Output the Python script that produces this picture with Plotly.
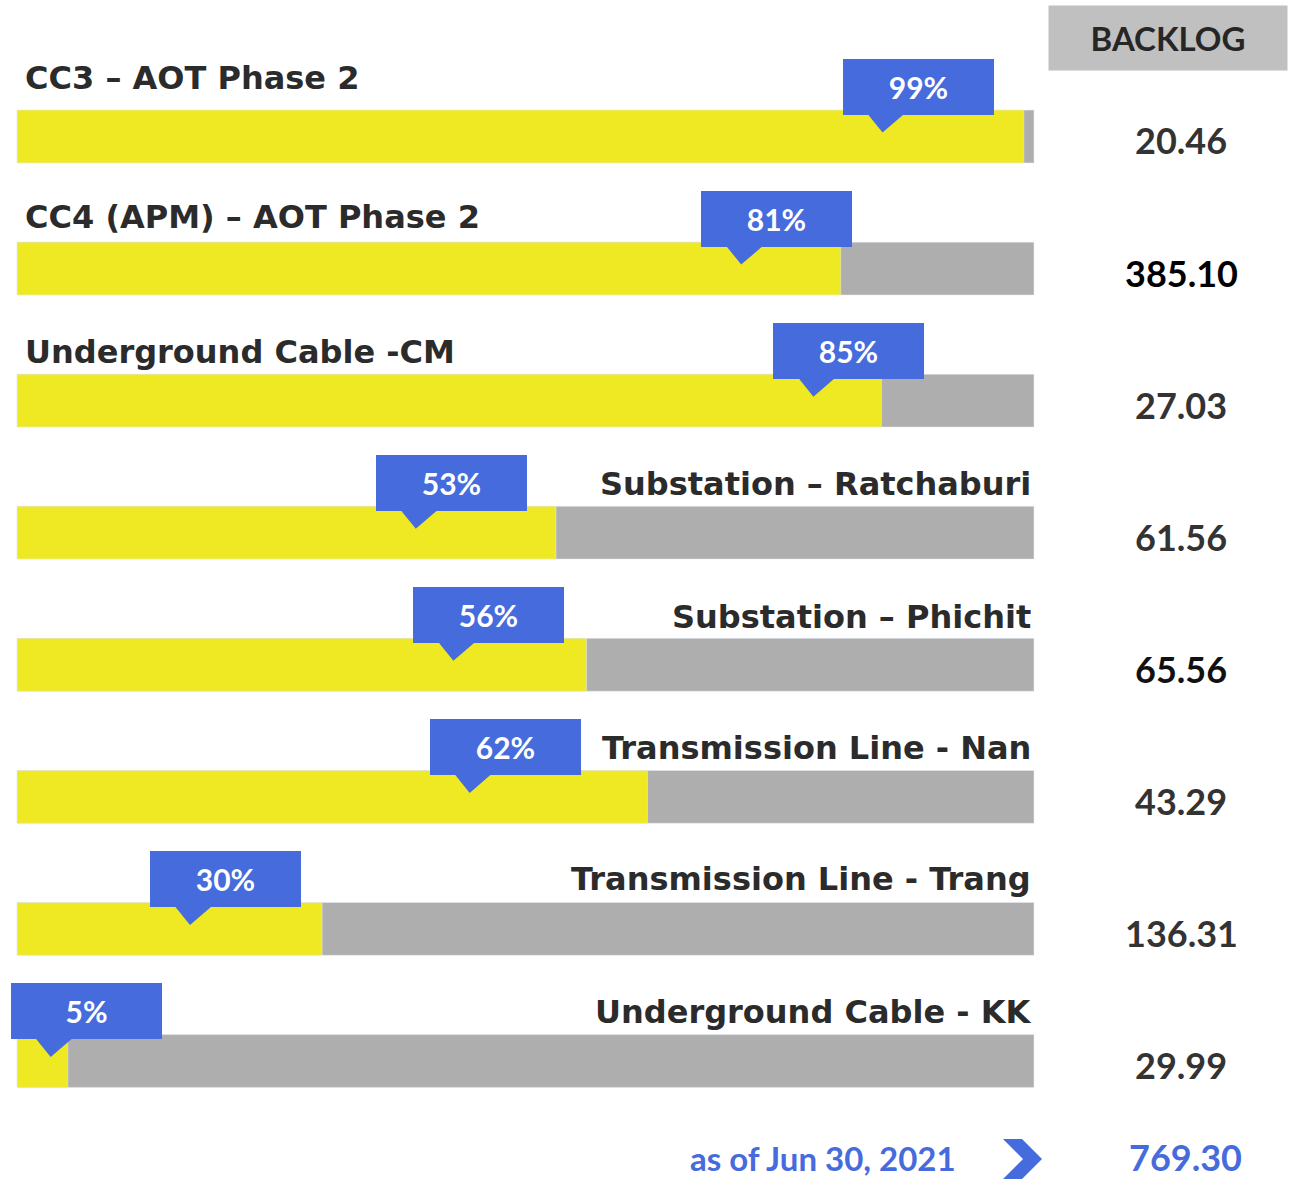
import plotly.graph_objects as go

# ---- data ----
projects = ["CC3 – AOT Phase 2", "CC4 (APM) – AOT Phase 2", "Underground Cable -CM",
            "Substation – Ratchaburi", "Substation – Phichit", "Transmission Line - Nan",
            "Transmission Line - Trang", "Underground Cable - KK"]
progress = [99, 81, 85, 53, 56, 62, 30, 5]
backlog = [20.46, 385.10, 27.03, 61.56, 65.56, 43.29, 136.31, 29.99]
total_backlog = 769.30
as_of = "as of Jun 30, 2021"

# ---- styles / layout helpers ----
label_side = ["left", "left", "left", "right", "right", "right", "right", "right"]
label_dy = [-0.44, -0.39, -0.37, -0.37, -0.36, -0.37, -0.38, -0.37]
callout_center = [88.6, 74.7, 81.8, 42.7, 46.4, 48.0, 20.5, 6.8]   # axis units
backlog_color = ["#333333", "#000000", "#333333", "#333333", "#111111", "#333333", "#333333", "#333333"]

W, H = 1289, 1179
PX = 10.17          # px per x unit
X0 = 17             # px of x=0
ROWPX = 132.07      # px per row
Y0 = 136.5          # px of row 0 center

YELLOW = "#EEE923"
GREY = "#AEAEAE"
BLUE = "#466BDC"
FONT = "Lato"
LABEL_FONT = "DejaVu Sans"

rows = list(range(len(projects)))

fig = go.Figure()
fig.add_trace(go.Bar(y=rows, x=[100] * len(rows), orientation="h", marker_color=GREY,
                     width=0.4, hoverinfo="skip", showlegend=False))
fig.add_trace(go.Bar(y=rows, x=progress, orientation="h", marker_color=YELLOW,
                     width=0.4, showlegend=False, name="Progress"))

ann = []
shapes = []
for i, r in enumerate(rows):
    # project label
    if label_side[i] == "left":
        ann.append(dict(x=0.6, y=r + label_dy[i], text=projects[i], xanchor="left", yanchor="middle",
                        showarrow=False, font=dict(family=LABEL_FONT, size=32, color="#2B2B2B", weight="bold")))
    else:
        ann.append(dict(x=99.9, y=r + label_dy[i], text=projects[i], xanchor="right", yanchor="middle",
                        showarrow=False, font=dict(family=LABEL_FONT, size=32, color="#2B2B2B", weight="bold")))
    # callout pointer
    c = callout_center[i]
    shapes.append(dict(type="path", xref="x", yref="y",
                       path=f"M {c-5.06},{r-0.18} L {c-1.23},{r-0.18} L {c-3.49},{r-0.03} Z",
                       fillcolor=BLUE, line=dict(width=0), layer="above"))
    # callout box
    ann.append(dict(x=c, y=r - 0.375, text=f"{progress[i]}%", xanchor="center", yanchor="middle",
                    showarrow=False, bgcolor=BLUE, width=151, height=56, borderpad=0, borderwidth=0,
                    font=dict(family=FONT, size=30, color="white", weight="bold")))
    # backlog value
    ann.append(dict(x=114.5, y=r + 0.03, text=f"{backlog[i]:.2f}", xanchor="center", yanchor="middle",
                    showarrow=False, font=dict(family=FONT, size=36, color=backlog_color[i], weight="bold")))

# header
ann.append(dict(xref="paper", yref="paper", x=1168 / W, y=1 - 38 / H, text="BACKLOG",
                xanchor="center", yanchor="middle",
                showarrow=False, bgcolor="#C0C0C0", width=238, height=64, borderpad=0,
                font=dict(family=FONT, size=33, color="#262626", weight="bold")))
# footer
ann.append(dict(xref="paper", yref="paper", x=958 / W, y=1 - 1158 / H, text=as_of,
                xanchor="right", yanchor="middle", showarrow=False,
                font=dict(family=FONT, size=33, color=BLUE, weight="bold")))
ann.append(dict(xref="paper", yref="paper", x=1185 / W, y=1 - 1157 / H, text=f"{total_backlog:.2f}",
                xanchor="center", yanchor="middle", showarrow=False,
                font=dict(family=FONT, size=36, color=BLUE, weight="bold")))

# chevron decoration (pixel coordinates -> paper)
chev = [(1003, 1139), (1022, 1139), (1042, 1159), (1022, 1179), (1003, 1179), (1023, 1159)]
chev_path = "M " + " L ".join(f"{x / W},{1 - y / H}" for x, y in chev) + " Z"
shapes.append(dict(type="path", xref="paper", yref="paper", path=chev_path,
                   fillcolor=BLUE, line=dict(width=0), layer="above"))

fig.update_layout(
    width=W, height=H, margin=dict(l=0, r=0, t=0, b=0), autosize=False,
    paper_bgcolor="white", plot_bgcolor="white",
    barmode="overlay",
    xaxis=dict(range=[-X0 / PX, (W - X0) / PX], visible=False, fixedrange=True),
    yaxis=dict(range=[(H - Y0) / ROWPX, -Y0 / ROWPX], visible=False, fixedrange=True),
    annotations=ann, shapes=shapes,
)

fig.write_html("out.html", config={"displayModeBar": False},
               post_script="document.body.style.margin='0';document.body.style.overflow='hidden';")
